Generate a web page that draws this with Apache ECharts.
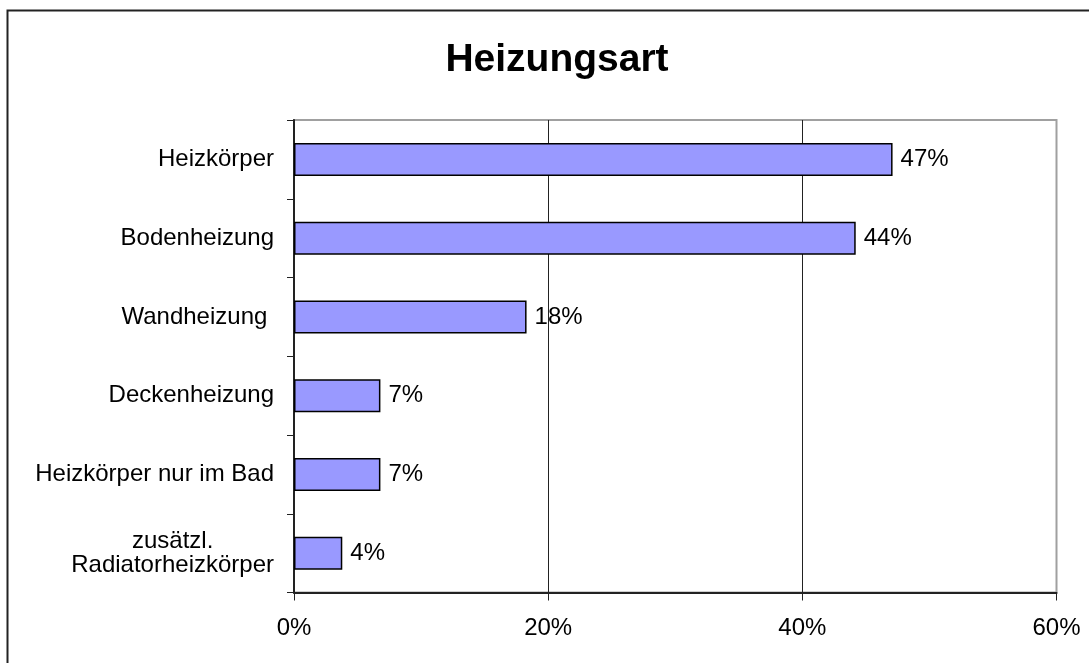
<!DOCTYPE html>
<html>
<head>
<meta charset="utf-8">
<script src="https://cdn.jsdelivr.net/npm/echarts@6/dist/echarts.min.js"></script>
<style>html,body{margin:0;padding:0;background:#fff;}#chart{width:1089px;height:663px;}</style>
</head>
<body>
<div id="chart"></div>
<script>
const titleText = 'Heizungsart';
const categories = ['Heizkörper', 'Bodenheizung', 'Wandheizung ', 'Deckenheizung', 'Heizkörper nur im Bad', 'zusätzl.\nRadiatorheizkörper'];
const values = [47.1, 44.2, 18.3, 6.8, 6.8, 3.8];
const xTicks = [0, 20, 40, 60];

const FONT = 'Liberation Sans, Arial, sans-serif';
const chart = echarts.init(document.getElementById('chart'), null, {renderer: 'canvas'});
chart.setOption({
  animation: false,
  backgroundColor: '#fff',
  title: {
    text: titleText,
    left: 552,
    top: 36,
    textAlign: 'center',
    textStyle: {fontFamily: FONT, fontSize: 39, fontWeight: 'bold', color: '#000'}
  },
  graphic: [{
    type: 'rect',
    shape: {x: 7.5, y: 10.5, width: 1200, height: 800},
    style: {fill: 'none', stroke: '#222', lineWidth: 2},
    silent: true,
    z: 100
  }],
  grid: {
    left: 294, top: 120, right: 32.5, bottom: 70.5,
    show: true, borderColor: '#a0a0a0', borderWidth: 2, backgroundColor: 'transparent'
  },
  xAxis: {
    type: 'value',
    min: xTicks[0], max: xTicks[xTicks.length - 1], interval: 20,
    axisLine: {show: true, lineStyle: {color: '#222', width: 2}},
    axisTick: {show: true, inside: false, length: 8, lineStyle: {color: '#222', width: 1}},
    splitLine: {show: true, lineStyle: {color: ['#222', '#222', '#222', '#a0a0a0'], width: 1}},
    axisLabel: {
      formatter: v => v + '%', margin: 24,
      fontFamily: FONT, fontSize: 24, color: '#000'
    }
  },
  yAxis: {
    type: 'category',
    data: categories,
    inverse: true,
    axisLine: {show: true, lineStyle: {color: '#222', width: 2}},
    axisTick: {show: true, inside: false, length: 7, lineStyle: {color: '#222', width: 1}},
    axisLabel: {
      margin: 20,
      fontFamily: FONT, fontSize: 24, color: '#000',
      formatter: v => v.split('\n').map(s => '{c|' + s + '}').join('\n'),
      rich: {c: {align: 'center', fontFamily: FONT, fontSize: 24, color: '#000', lineHeight: 24}}
    }
  },
  series: [{
    type: 'bar',
    data: values,
    barWidth: 33,
    itemStyle: {color: '#9999ff', borderColor: '#000', borderWidth: 1.5},
    label: {
      show: true, position: 'right', distance: 8,
      formatter: p => Math.round(p.value) + '%',
      fontFamily: FONT, fontSize: 24, color: '#000'
    }
  }]
});
</script>
</body>
</html>
